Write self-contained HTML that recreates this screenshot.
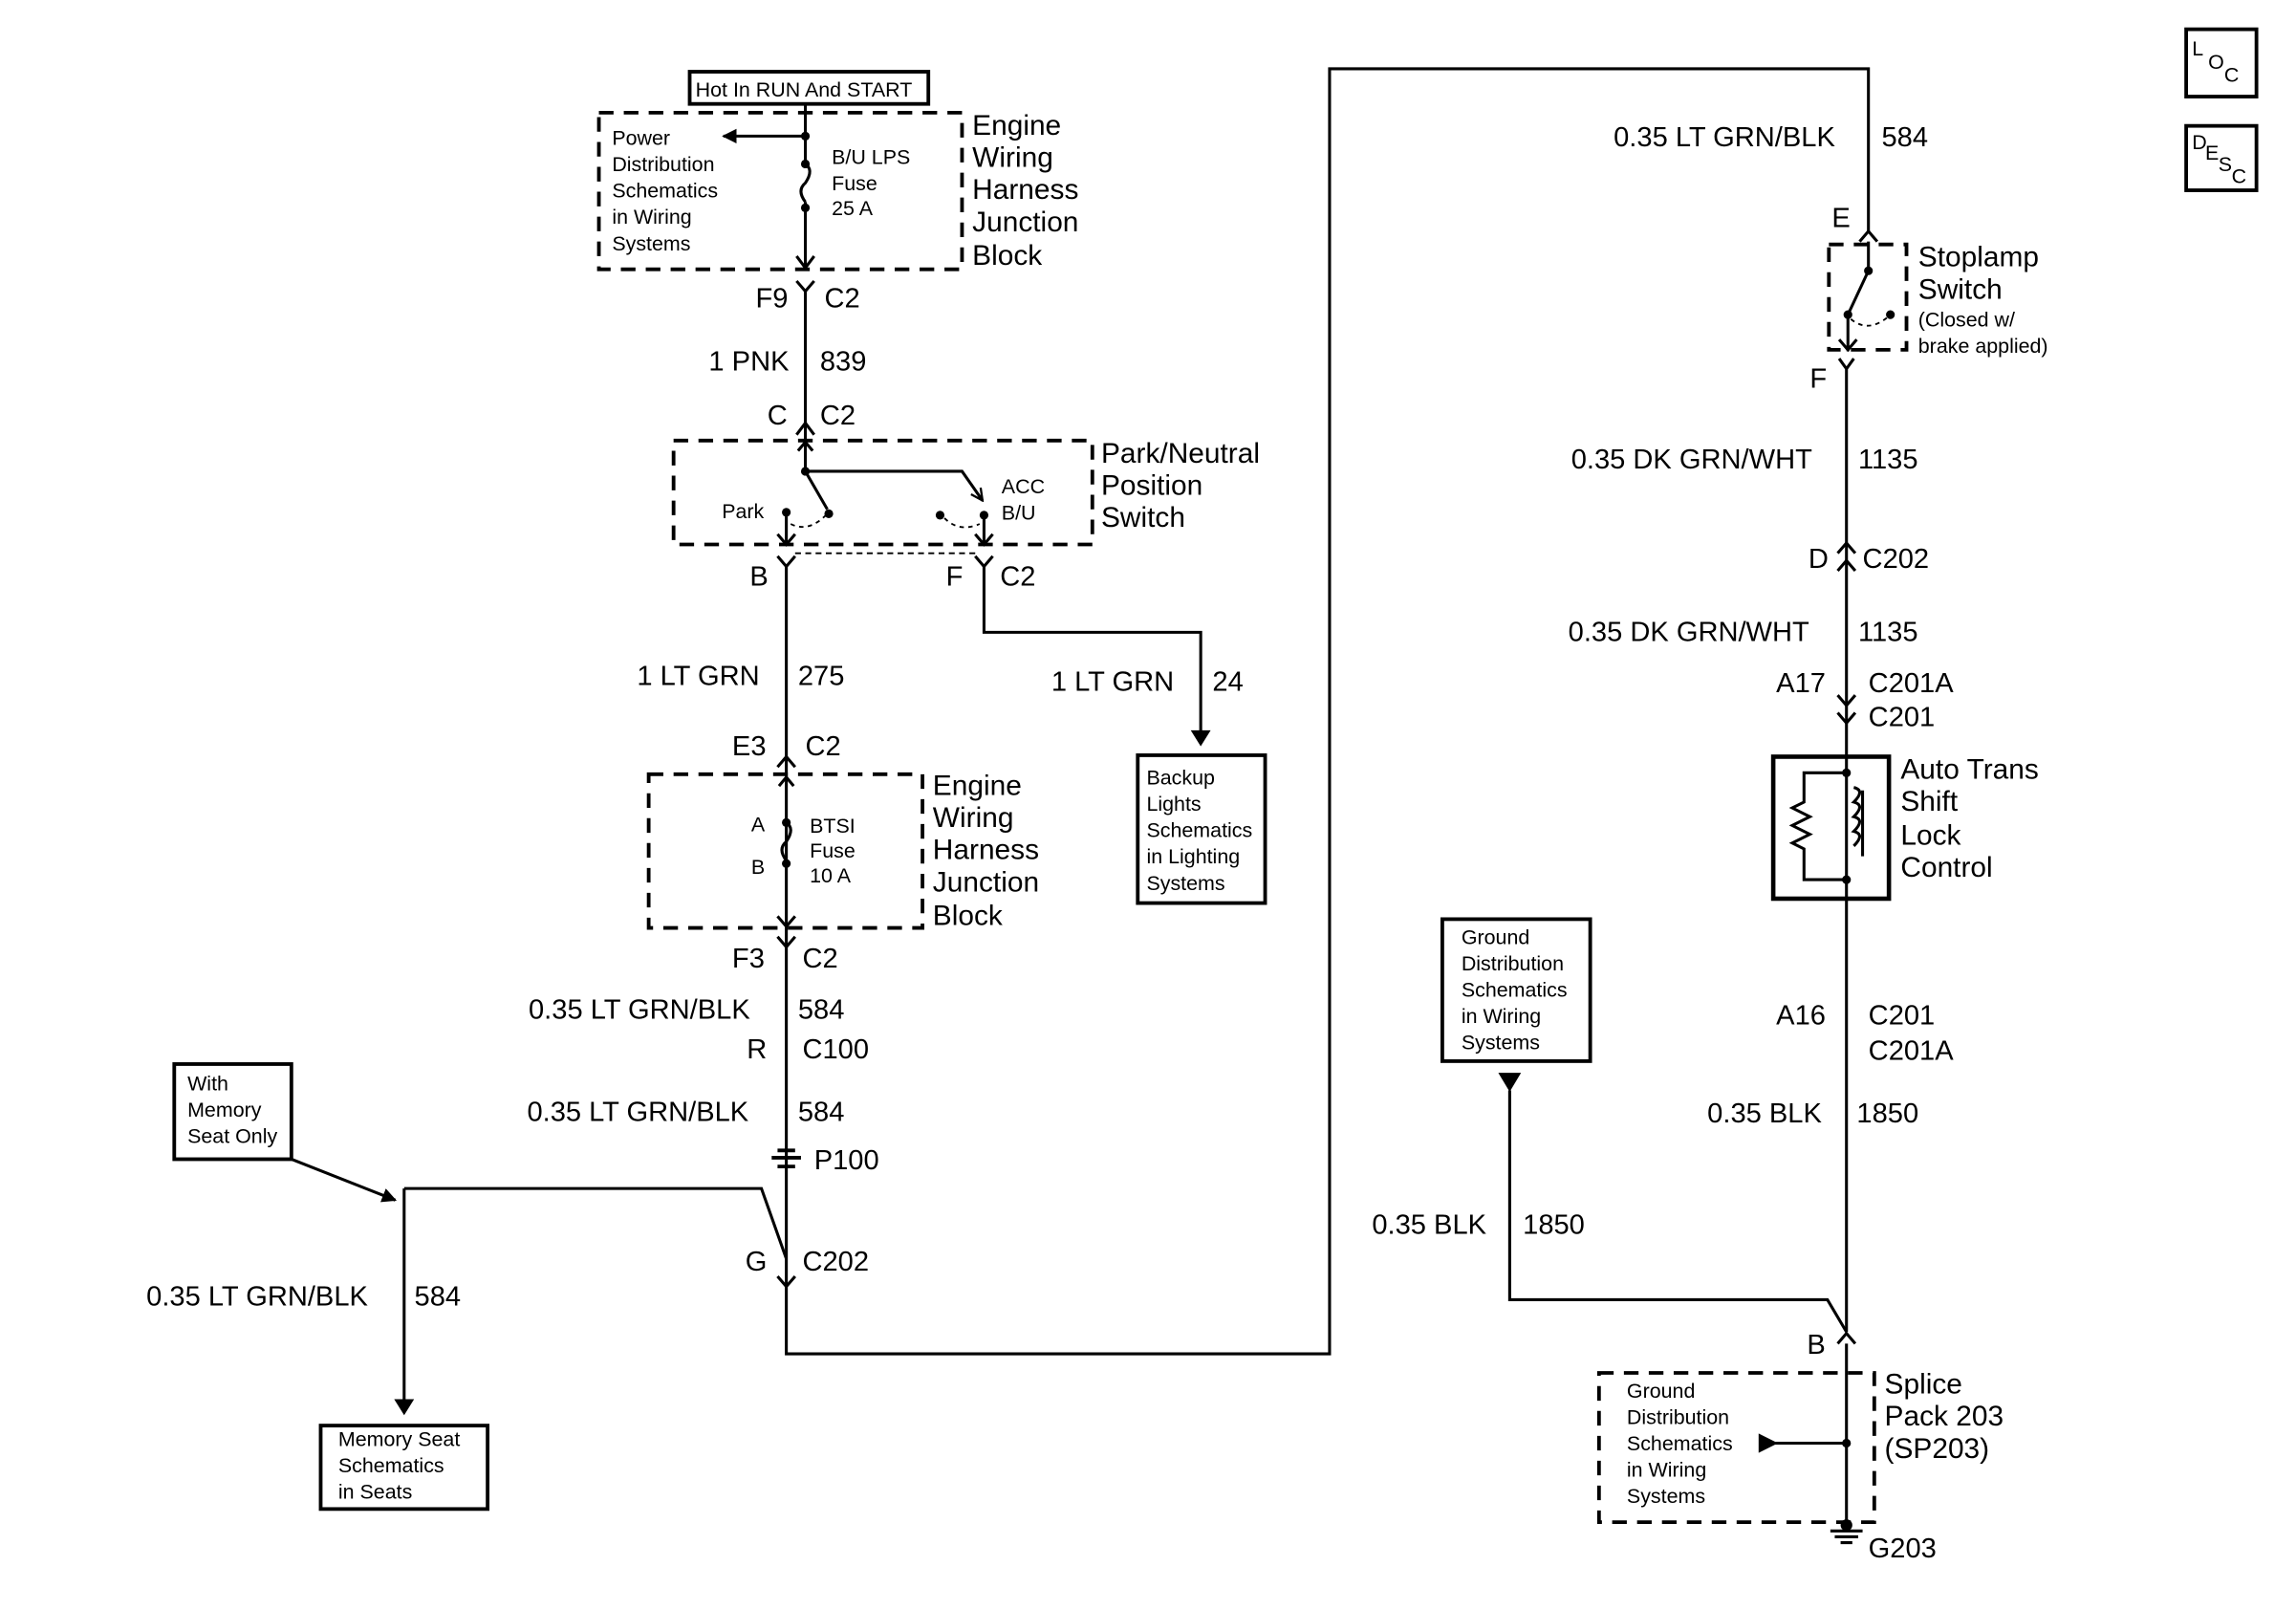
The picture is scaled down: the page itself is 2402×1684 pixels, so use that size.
<!DOCTYPE html>
<html><head><style>
html,body{margin:0;padding:0;background:#fff;}
svg{display:block;}
text{font-family:"Liberation Sans",Arial,sans-serif;fill:#000;}
.w{font-size:19px;}
.b{font-size:19.5px;}
.s{font-size:14px;}
</style></head><body>
<svg width="2402" height="1684" viewBox="0 0 1568 1100" preserveAspectRatio="none" xmlns="http://www.w3.org/2000/svg">
<defs>
<marker id="ar" markerWidth="10" markerHeight="10" refX="9" refY="5" orient="auto" markerUnits="userSpaceOnUse"><path d="M0,0 L10,5 L0,10 z" fill="#000"/></marker>
<marker id="oa" markerWidth="10" markerHeight="10" refX="9" refY="5" orient="auto" markerUnits="userSpaceOnUse"><path d="M1,1 L9,5 L1,9" fill="none" stroke="#000" stroke-width="1.5"/></marker>
</defs>
<g fill="none" stroke="#000" stroke-width="2">
<rect x="471" y="49" width="163" height="22" stroke-width="2.5"/>
<rect x="409" y="77" width="248" height="107" stroke-dasharray="10,7" stroke-width="2.5"/>
<path d="M550 71 V112 M550 138 V182"/>
<path d="M550 112 q6 4 0 13 q-6 5 0 13"/>
<path d="M550 93 H494" marker-end="url(#ar)"/>
<path d="M544 175 L550 183 L556 175"/>
<path d="M544 192 L550 199 L556 192 M550 199 V300"/>
<path d="M544 297 L550 289 L556 297"/>
<rect x="460" y="301" width="286" height="71" stroke-dasharray="10,7" stroke-width="2.5"/>
<path d="M550 302 V322 H657 L671 342" marker-end="url(#oa)"/>
<path d="M545 308 L550 302 L555 308"/>
<path d="M550 322 L565 348"/>
<path d="M537 350 V372 M531 365 L537 372 L543 365"/>
<path d="M672 352 V372 M666 365 L672 372 L678 365"/>
<path d="M540 358 q12 6 24 -6 M645 354 q10 10 24 4" stroke-dasharray="3,3" stroke-width="1.2"/>
<path d="M531 380 L537 387 L543 380 M666 380 L672 387 L678 380"/>
<path d="M543 378 H666" stroke-dasharray="4,3" stroke-width="1.2"/>
<path d="M537 387 V925 H908 V47 H1276 V158"/>
<path d="M672 387 V432 H820 V508" />
<path d="M815 500 L820 508 L825 500 z" fill="#000"/>
<rect x="777" y="516" width="87" height="101" stroke-width="2.5"/>
<path d="M531 524 L537 517 L543 524"/>
<rect x="443" y="529" width="187" height="105" stroke-dasharray="10,7" stroke-width="2.5"/>
<path d="M532 537 L537 531 L542 537"/>
<path d="M537 562 q6 4 0 13 q-6 5 0 13"/>
<path d="M531 626 L537 633 L543 626 M531 640 L537 647 L543 640"/>
<path d="M531 786 H543 M531 797 H543 M527 791 H547" stroke-width="2.5"/>
<path d="M531 872 L537 879 L543 872"/>
<path d="M276 812 H520 L537 860"/>
<path d="M276 812 V965"/>
<path d="M271 957 L276 965 L281 957 z" fill="#000"/>
<rect x="119" y="727" width="80" height="65" stroke-width="2.5"/>
<path d="M199 792 L270 820" marker-end="url(#ar)"/>
<rect x="219" y="974" width="114" height="57" stroke-width="2.5"/>
<path d="M1270 165 L1276 158 L1282 165"/>
<rect x="1249" y="167" width="53" height="72" stroke-dasharray="10,7" stroke-width="2.5"/>
<path d="M1276 165 V185 L1262 215 M1262 215 V240 M1256 232 L1262 239 L1268 232"/>
<path d="M1264 218 q12 10 26 -2" stroke-dasharray="3,3" stroke-width="1.2"/>
<path d="M1256 245 L1261 252 L1266 245 M1261 252 V910"/>
<path d="M1255 378 L1261 371 L1267 378 M1255 390 L1261 383 L1267 390"/>
<path d="M1255 475 L1261 482 L1267 475 M1255 487 L1261 494 L1267 487"/>
<rect x="1211" y="517" width="79" height="97" stroke-width="3"/>
<path d="M1261 528 H1232 V548 l-8 4 l12 6 l-12 6 l12 6 l-12 6 l8 4 V601 H1261"/>
<path d="M1266 538 q8 2 0 10 q8 2 0 10 q8 2 0 10 q8 2 0 10"/>
<path d="M1272 540 V585"/>
<path d="M1031 745 V888 H1248 L1261 910"/>
<path d="M1025 734 L1031 744 L1037 734 z" fill="#000"/>
<rect x="985" y="628" width="101" height="97" stroke-width="2.5"/>
<path d="M1255 918 L1261 911 L1267 918"/>
<rect x="1092" y="938" width="188" height="102" stroke-dasharray="10,7" stroke-width="2.5"/>
<path d="M1261 918 V1042 M1202 986 H1261"/>
<path d="M1202 981 L1212 986 L1202 991 z" fill="#000"/>
<path d="M1250 1046 H1272 M1253 1050 H1269 M1257 1054 H1265"/>
<rect x="1493" y="20" width="48" height="46" stroke-width="2.5"/>
<rect x="1493" y="86" width="48" height="44" stroke-width="2.5"/>
</g>
<g fill="#000">
<circle cx="550" cy="93" r="3"/><circle cx="550" cy="112" r="3"/><circle cx="550" cy="142" r="3"/>
<circle cx="550" cy="322" r="3"/><circle cx="566" cy="351" r="3"/><circle cx="537" cy="350" r="3"/>
<circle cx="642" cy="352" r="3"/><circle cx="672" cy="352" r="3"/>
<circle cx="537" cy="562" r="3"/><circle cx="537" cy="590" r="3"/>
<circle cx="1276" cy="185" r="3"/><circle cx="1262" cy="215" r="3"/><circle cx="1291" cy="215" r="3"/>
<circle cx="1261" cy="528" r="3"/><circle cx="1261" cy="601" r="3"/><circle cx="1261" cy="986" r="3"/>
<circle cx="1261" cy="1042" r="4"/>
</g>
<text x="475" y="66" font-size="14">Hot In RUN And START</text>
<text class="s"><tspan x="418" y="99">Power</tspan><tspan x="418" y="117">Distribution</tspan><tspan x="418" y="135">Schematics</tspan><tspan x="418" y="153">in Wiring</tspan><tspan x="418" y="171">Systems</tspan></text>
<text class="s"><tspan x="568" y="112">B/U LPS</tspan><tspan x="568" y="130">Fuse</tspan><tspan x="568" y="147">25 A</tspan></text>
<text class="b"><tspan x="664" y="92">Engine</tspan><tspan x="664" y="114">Wiring</tspan><tspan x="664" y="136">Harness</tspan><tspan x="664" y="158">Junction</tspan><tspan x="664" y="181">Block</tspan></text>
<text class="w" x="516" y="210">F9</text><text class="w" x="563" y="210">C2</text>
<text class="w" x="484" y="253">1 PNK</text><text class="w" x="560" y="253">839</text>
<text class="w" x="524" y="290">C</text><text class="w" x="560" y="290">C2</text>
<text class="s" x="493" y="354">Park</text>
<text class="s"><tspan x="684" y="337">ACC</tspan><tspan x="684" y="355">B/U</tspan></text>
<text class="b"><tspan x="752" y="316">Park/Neutral</tspan><tspan x="752" y="338">Position</tspan><tspan x="752" y="360">Switch</tspan></text>
<text class="w" x="512" y="400">B</text><text class="w" x="646" y="400">F</text><text class="w" x="683" y="400">C2</text>
<text class="w" x="435" y="468">1 LT GRN</text><text class="w" x="545" y="468">275</text>
<text class="w" x="718" y="472">1 LT GRN</text><text class="w" x="828" y="472">24</text>
<text class="s"><tspan x="783" y="536">Backup</tspan><tspan x="783" y="554">Lights</tspan><tspan x="783" y="572">Schematics</tspan><tspan x="783" y="590">in Lighting</tspan><tspan x="783" y="608">Systems</tspan></text>
<text class="w" x="500" y="516">E3</text><text class="w" x="550" y="516">C2</text>
<text class="s"><tspan x="513" y="568">A</tspan><tspan x="513" y="597">B</tspan></text>
<text class="s"><tspan x="553" y="569">BTSI</tspan><tspan x="553" y="586">Fuse</tspan><tspan x="553" y="603">10 A</tspan></text>
<text class="b"><tspan x="637" y="543">Engine</tspan><tspan x="637" y="565">Wiring</tspan><tspan x="637" y="587">Harness</tspan><tspan x="637" y="609">Junction</tspan><tspan x="637" y="632">Block</tspan></text>
<text class="w" x="500" y="661">F3</text><text class="w" x="548" y="661">C2</text>
<text class="w" x="361" y="696">0.35 LT GRN/BLK</text><text class="w" x="545" y="696">584</text>
<text class="w" x="510" y="723">R</text><text class="w" x="548" y="723">C100</text>
<text class="w" x="360" y="766">0.35 LT GRN/BLK</text><text class="w" x="545" y="766">584</text>
<text class="w" x="556" y="799">P100</text>
<text class="w" x="509" y="868">G</text><text class="w" x="548" y="868">C202</text>
<text class="s"><tspan x="128" y="745">With</tspan><tspan x="128" y="763">Memory</tspan><tspan x="128" y="781">Seat Only</tspan></text>
<text class="w" x="100" y="892">0.35 LT GRN/BLK</text><text class="w" x="283" y="892">584</text>
<text class="s"><tspan x="231" y="988">Memory Seat</tspan><tspan x="231" y="1006">Schematics</tspan><tspan x="231" y="1024">in Seats</tspan></text>
<text class="w" x="1102" y="100">0.35 LT GRN/BLK</text><text class="w" x="1285" y="100">584</text>
<text class="w" x="1251" y="155">E</text>
<text class="b"><tspan x="1310" y="182">Stoplamp</tspan><tspan x="1310" y="204">Switch</tspan></text>
<text class="s"><tspan x="1310" y="223">(Closed w/</tspan><tspan x="1310" y="241">brake applied)</tspan></text>
<text class="w" x="1236" y="265">F</text>
<text class="w" x="1073" y="320">0.35 DK GRN/WHT</text><text class="w" x="1269" y="320">1135</text>
<text class="w" x="1235" y="388">D</text><text class="w" x="1272" y="388">C202</text>
<text class="w" x="1071" y="438">0.35 DK GRN/WHT</text><text class="w" x="1269" y="438">1135</text>
<text class="w" x="1213" y="473">A17</text><text class="w" x="1276" y="473">C201A</text>
<text class="w" x="1276" y="496">C201</text>
<text class="b"><tspan x="1298" y="532">Auto Trans</tspan><tspan x="1298" y="554">Shift</tspan><tspan x="1298" y="577">Lock</tspan><tspan x="1298" y="599">Control</tspan></text>
<text class="s"><tspan x="998" y="645">Ground</tspan><tspan x="998" y="663">Distribution</tspan><tspan x="998" y="681">Schematics</tspan><tspan x="998" y="699">in Wiring</tspan><tspan x="998" y="717">Systems</tspan></text>
<text class="w" x="1213" y="700">A16</text><text class="w" x="1276" y="700">C201</text>
<text class="w" x="1276" y="724">C201A</text>
<text class="w" x="1166" y="767">0.35 BLK</text><text class="w" x="1268" y="767">1850</text>
<text class="w" x="937" y="843">0.35 BLK</text><text class="w" x="1040" y="843">1850</text>
<text class="w" x="1234" y="925">B</text>
<text class="b"><tspan x="1287" y="952">Splice</tspan><tspan x="1287" y="974">Pack 203</tspan><tspan x="1287" y="996">(SP203)</tspan></text>
<text class="s"><tspan x="1111" y="955">Ground</tspan><tspan x="1111" y="973">Distribution</tspan><tspan x="1111" y="991">Schematics</tspan><tspan x="1111" y="1009">in Wiring</tspan><tspan x="1111" y="1027">Systems</tspan></text>
<text class="w" x="1276" y="1064">G203</text>
<text font-size="14"><tspan x="1497" y="38">L</tspan><tspan x="1508" y="47">O</tspan><tspan x="1519" y="56">C</tspan></text>
<text font-size="14"><tspan x="1497" y="102">D</tspan><tspan x="1506" y="109">E</tspan><tspan x="1515" y="117">S</tspan><tspan x="1524" y="125">C</tspan></text>
</svg>
</body></html>
